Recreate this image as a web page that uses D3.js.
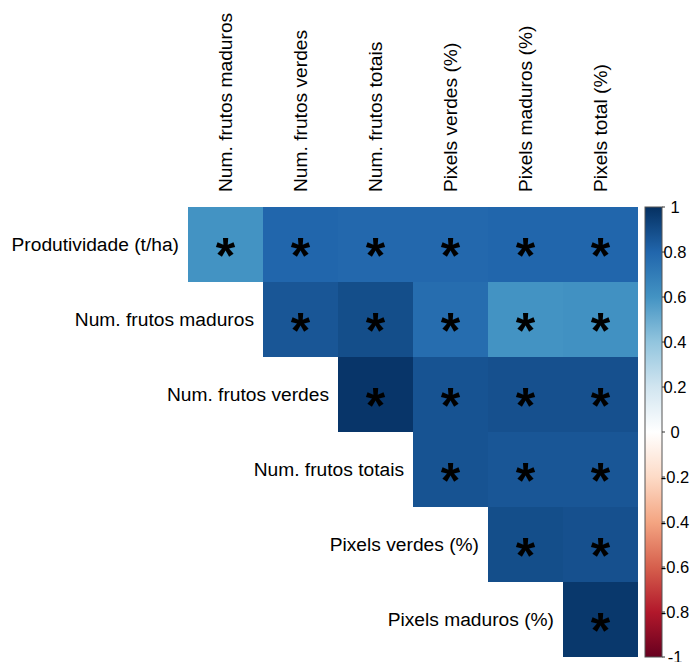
<!DOCTYPE html>
<html>
<head>
<meta charset="utf-8">
<script src="https://cdn.jsdelivr.net/npm/d3@7"></script>
<style>
  html, body { margin: 0; padding: 0; background: #fff; }
  svg { display: block; font-family: "Liberation Sans", Arial, sans-serif; }
</style>
</head>
<body>
<svg id="chart" width="691" height="662"></svg>
<script>
// ---- Data ----
const rowLabels = ["Produtividade (t/ha)", "Num. frutos maduros", "Num. frutos verdes",
                   "Num. frutos totais", "Pixels verdes (%)", "Pixels maduros (%)"];
const colLabels = ["Num. frutos maduros", "Num. frutos verdes", "Num. frutos totais",
                   "Pixels verdes (%)", "Pixels maduros (%)", "Pixels total (%)"];
// upper-triangle correlations, row i starts at column i
const rowProdutividade   = [0.60, 0.80, 0.79, 0.79, 0.80, 0.80];
const rowFrutosMaduros   = [0.86, 0.89, 0.77, 0.60, 0.61];
const rowFrutosVerdes    = [0.98, 0.87, 0.88, 0.88];
const rowFrutosTotais    = [0.87, 0.86, 0.86];
const rowPixelsVerdes    = [0.89, 0.88];
const rowPixelsMaduros   = [0.97];
const significant = "*";
const legendTicks = [1, 0.8, 0.6, 0.4, 0.2, 0, -0.2, -0.4, -0.6, -0.8, -1];
const paletteStops = [-1, -0.8, -0.6, -0.4, -0.2, 0, 0.2, 0.4, 0.6, 0.8, 1];
const paletteColors = ["#67001F", "#B2182B", "#D6604D", "#F4A582", "#FDDBC7", "#FFFFFF",
                       "#D1E5F0", "#92C5DE", "#4393C3", "#2166AC", "#053061"];

const rows = [rowProdutividade, rowFrutosMaduros, rowFrutosVerdes, rowFrutosTotais, rowPixelsVerdes, rowPixelsMaduros];
const cells = [];
rows.forEach((vals, i) => vals.forEach((v, k) => cells.push({row: rowLabels[i], col: colLabels[i + k], value: v})));

// ---- Layout ----
const svg = d3.select("#chart");
const gridLeft = 188, gridTop = 207, cell = 75;
const x = d3.scaleBand().domain(colLabels).range([gridLeft, gridLeft + cell * colLabels.length]);
const y = d3.scaleBand().domain(rowLabels).range([gridTop, gridTop + cell * rowLabels.length]);
const color = d3.scaleLinear().domain(paletteStops).range(paletteColors).interpolate(d3.interpolateRgb);

// cells
svg.append("g").selectAll("rect").data(cells).join("rect")
  .attr("x", d => x(d.col)).attr("y", d => y(d.row))
  .attr("width", x.bandwidth()).attr("height", y.bandwidth())
  .attr("fill", d => color(d.value))
  .attr("shape-rendering", "crispEdges");

// asterisks
svg.append("g").selectAll("text").data(cells).join("text")
  .attr("x", d => x(d.col) + x.bandwidth() / 2)
  .attr("y", d => y(d.row) + y.bandwidth() / 2 + 28)
  .attr("text-anchor", "middle")
  .attr("font-size", 50)
  .attr("font-weight", "bold")
  .attr("fill", "#000")
  .text(significant);

// row labels
svg.append("g").selectAll("text").data(rowLabels).join("text")
  .attr("x", (d, i) => x(colLabels[i]) - 9)
  .attr("y", d => y(d) + y.bandwidth() / 2)
  .attr("dy", "0.35em")
  .attr("text-anchor", "end")
  .attr("font-size", 19.2)
  .attr("fill", "#000")
  .text(d => d);

// column labels
svg.append("g").selectAll("text").data(colLabels).join("text")
  .attr("transform", d => `translate(${x(d) + x.bandwidth() / 2},192) rotate(-90)`)
  .attr("dy", "0.35em")
  .attr("text-anchor", "start")
  .attr("font-size", 19.2)
  .attr("fill", "#000")
  .text(d => d);

// ---- Color legend ----
const legX = 645, legW = 17;
const legScale = d3.scaleLinear().domain([1, -1]).range([gridTop, gridTop + cell * rowLabels.length]);
const defs = svg.append("defs");
const grad = defs.append("linearGradient").attr("id", "lg")
  .attr("x1", 0).attr("y1", 1).attr("x2", 0).attr("y2", 0);
paletteStops.forEach((s, i) => grad.append("stop")
  .attr("offset", (s + 1) / 2).attr("stop-color", paletteColors[i]));
svg.append("rect")
  .attr("x", legX).attr("y", legScale(1))
  .attr("width", legW).attr("height", legScale(-1) - legScale(1))
  .attr("fill", "url(#lg)")
  .attr("stroke", "#555").attr("stroke-width", 1);

const legAxis = svg.append("g");
legAxis.selectAll("line").data(legendTicks).join("line")
  .attr("x1", legX + legW).attr("x2", legX + legW + 3)
  .attr("y1", d => legScale(d)).attr("y2", d => legScale(d))
  .attr("stroke", "#333").attr("stroke-width", 1);
legAxis.selectAll("text").data(legendTicks).join("text")
  .attr("x", 675)
  .attr("y", d => legScale(d))
  .attr("dy", "0.35em")
  .attr("text-anchor", "middle")
  .attr("font-size", 16.5)
  .attr("fill", "#000")
  .text(d => String(d));
</script>
</body>
</html>
